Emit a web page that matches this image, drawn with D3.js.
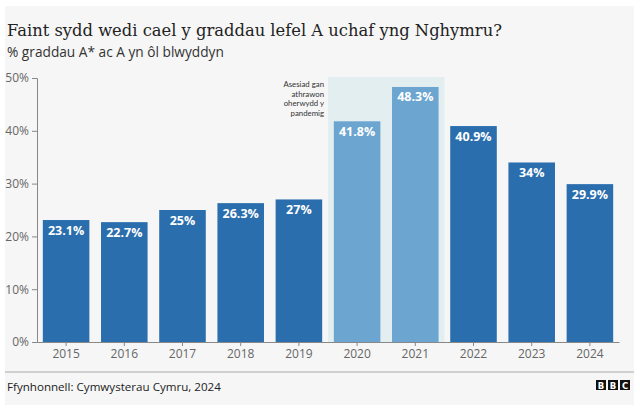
<!DOCTYPE html>
<html>
<head>
<meta charset="utf-8">
<script src="https://cdn.jsdelivr.net/npm/d3@7"></script>
<style>
  html, body { margin: 0; padding: 0; background: #ffffff; }
  svg { display: block; }
</style>
</head>
<body>
<script>
const years = ["2015","2016","2017","2018","2019","2020","2021","2022","2023","2024"];
const values = [23.1, 22.7, 25, 26.3, 27, 41.8, 48.3, 40.9, 34, 29.9];
const valueLabels = ["23.1%","22.7%","25%","26.3%","27%","41.8%","48.3%","40.9%","34%","29.9%"];
const pandemicYears = ["2020","2021"];
const yTicks = [0, 10, 20, 30, 40, 50];
const annotationLines = ["Asesiad gan", "athrawon", "oherwydd y", "pandemig"];
const titleText = "Faint sydd wedi cael y graddau lefel A uchaf yng Nghymru?";
const subtitleText = "% graddau A* ac A yn ôl blwyddyn";
const sourceText = "Ffynhonnell: Cymwysterau Cymru, 2024";

const W = 640, H = 411;
const svg = d3.select("body").append("svg").attr("width", W).attr("height", H);

// panel background
svg.append("rect").attr("x", 5).attr("y", 6).attr("width", 629).attr("height", 399).attr("fill", "#f6f6f6");

const sans = "'Open Sans', 'Noto Sans', sans-serif";

// title
const title = svg.append("text").attr("x", 7).attr("y", 36)
  .attr("font-family", "'DejaVu Serif', serif").attr("font-size", 17).attr("fill", "#222")
  .text(titleText);
{
  const w = title.node().getComputedTextLength();
  const fs = 17 * 495 / w;
  title.attr("font-size", Math.min(fs, 20));
  const w2 = title.node().getComputedTextLength();
  if (Math.abs(w2 - 495) > 3) title.attr("textLength", 495).attr("lengthAdjust", "spacingAndGlyphs");
}

// subtitle
const sub = svg.append("text").attr("x", 7).attr("y", 57)
  .attr("font-family", sans).attr("font-size", 13).attr("fill", "#333")
  .text(subtitleText);
{
  const w = sub.node().getComputedTextLength();
  sub.attr("font-size", Math.min(15, 13 * 217 / w));
}

const x = d3.scaleBand().domain(years).range([37, 619]).paddingInner(0.2).paddingOuter(0.1);
const y = d3.scaleLinear().domain([0, 50]).range([342, 78]);

// pandemic band
const bx0 = x(pandemicYears[0]) - x.step() * 0.1;
const bx1 = x(pandemicYears[pandemicYears.length - 1]) + x.bandwidth() + x.step() * 0.1;
svg.append("rect").attr("x", bx0).attr("y", y(50) - 1).attr("width", bx1 - bx0).attr("height", y(0) - y(50) + 1)
  .attr("fill", "#e2eef0");

// annotation
const ann = svg.append("text").attr("font-family", "Lato, sans-serif").attr("font-size", 7.8).attr("fill", "#333")
  .attr("text-anchor", "end");
annotationLines.forEach((l, i) => {
  ann.append("tspan").attr("x", bx0 - 4).attr("y", 87.3 + i * 9.45).text(l);
});

// bars
svg.append("g").selectAll("rect").data(years).join("rect")
  .attr("x", d => x(d))
  .attr("y", (d, i) => y(values[i]))
  .attr("width", x.bandwidth())
  .attr("height", (d, i) => y(0) - y(values[i]))
  .attr("fill", d => pandemicYears.includes(d) ? "#6ca5d0" : "#2b6eae");

// value labels
svg.append("g").selectAll("text").data(years).join("text")
  .attr("x", d => x(d) + x.bandwidth() / 2)
  .attr("y", (d, i) => y(values[i]) + 14.5)
  .attr("text-anchor", "middle")
  .attr("font-family", sans).attr("font-weight", "bold").attr("font-size", 12.5)
  .attr("fill", "#ffffff")
  .text((d, i) => valueLabels[i]);

// y axis
const yAxis = svg.append("g").attr("transform", "translate(37,0)")
  .call(d3.axisLeft(y).tickValues(yTicks).tickFormat(d => d + "%").tickSize(5).tickPadding(3));
yAxis.select(".domain").attr("stroke", "#888");
yAxis.selectAll(".tick line").attr("stroke", "#888");
yAxis.selectAll(".tick text").attr("font-family", sans).attr("font-size", 12).attr("fill", "#666");

// x axis
const xAxis = svg.append("g").attr("transform", "translate(0,342)")
  .call(d3.axisBottom(x).tickSize(4).tickSizeOuter(0).tickPadding(3));
xAxis.select(".domain").attr("stroke", "#888");
xAxis.selectAll(".tick line").attr("stroke", "#888");
xAxis.selectAll(".tick text").attr("font-family", sans).attr("font-size", 12).attr("fill", "#666");

// footer line
svg.append("line").attr("x1", 5).attr("x2", 634).attr("y1", 372).attr("y2", 372).attr("stroke", "#aaa").attr("stroke-width", 1);

// source
const src = svg.append("text").attr("x", 7).attr("y", 390.5)
  .attr("font-family", sans).attr("font-size", 12).attr("fill", "#222").text(sourceText);
{
  const w = src.node().getComputedTextLength();
  src.attr("font-size", Math.min(14, 12 * 214 / w));
}

// BBC logo
const logo = svg.append("g");
["B","B","C"].forEach((ch, i) => {
  const lx = 596 + i * 12;
  logo.append("rect").attr("x", lx).attr("y", 380).attr("width", 10).attr("height", 10).attr("fill", "#111");
  logo.append("text").attr("x", lx + 5).attr("y", 388.5).attr("text-anchor", "middle")
    .attr("font-family", "'DejaVu Sans', sans-serif").attr("font-weight", "bold").attr("font-size", 8.5)
    .attr("fill", "#fff").text(ch);
});
</script>
</body>
</html>
